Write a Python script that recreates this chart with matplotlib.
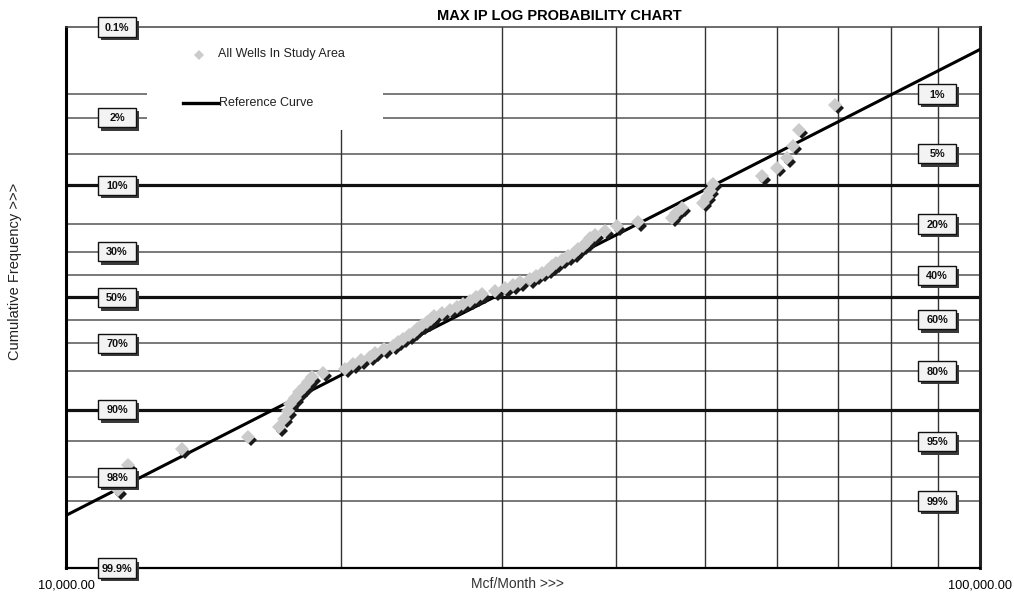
import numpy as np
import matplotlib
matplotlib.use("Agg")
import matplotlib.pyplot as plt
import matplotlib.transforms as mtransforms
from matplotlib.offsetbox import DrawingArea, AnnotationBbox
from matplotlib.patches import Rectangle
from matplotlib.text import Text
from matplotlib.ticker import NullLocator
from statistics import NormalDist

# ---------------- data ----------------
well_ip = [69400, 63400, 62400, 61500, 60000, 57700, 51000, 50700, 50300, 49800,
           47200, 46500, 46000, 42300, 40100, 38900, 37900, 37400, 37200, 36800,
           36300, 36000, 35400, 34900, 34400, 34000, 33700, 33200, 32700, 32200,
           31400, 30800, 30200, 29500, 28500, 28100, 27700, 27200, 26800, 26300,
           25800, 25300, 25100, 24800, 24500, 24200, 24000, 23700, 23400, 23100,
           22800, 22300, 21800, 21500, 21000, 20600, 20200, 19100, 18600, 18400,
           18200, 18000, 17800, 17600, 17500, 17300, 17100, 15800, 13400, 11700,
           11400]
cum_freq_pct = [1.39, 2.78, 4.17, 5.56, 6.94, 8.33, 9.72, 11.11, 12.50, 13.89,
                15.28, 16.67, 18.06, 19.44, 20.83, 22.22, 23.61, 25.00, 26.39, 27.78,
                29.17, 30.56, 31.94, 33.33, 34.72, 36.11, 37.50, 38.89, 40.28, 41.67,
                43.06, 44.44, 45.83, 47.22, 48.61, 50.00, 51.39, 52.78, 54.17, 55.56,
                56.94, 58.33, 59.72, 61.11, 62.50, 63.89, 65.28, 66.67, 68.06, 69.44,
                70.83, 72.22, 73.61, 75.00, 76.39, 77.78, 79.17, 80.56, 81.94, 83.33,
                84.72, 86.11, 87.50, 88.89, 90.28, 91.67, 93.06, 94.44, 95.83, 97.22,
                98.61]
ref_x = [10000, 100000]
ref_pct = [99.36, 0.23]

left_labels = ["0.1%", "2%", "10%", "30%", "50%", "70%", "90%", "98%", "99.9%"]
left_pct = [0.1, 2, 10, 30, 50, 70, 90, 98, 99.9]
right_labels = ["1%", "5%", "20%", "40%", "60%", "80%", "95%", "99%"]
right_pct = [1, 5, 20, 40, 60, 80, 95, 99]
thick_pct = [10, 50, 90]
thin_pct = [1, 2, 5, 20, 30, 40, 60, 70, 80, 95, 98, 99]
vgrid_x = [20000, 30000, 40000, 50000, 60000, 70000, 80000, 90000]
xtick_vals = [10000, 100000]
xtick_labels = ["10,000.00", "100,000.00"]

# ---------------- probability scale ----------------
_nd = NormalDist()
_ppf = np.vectorize(lambda p: _nd.inv_cdf(min(max(p, 1e-9), 1 - 1e-9)), otypes=[float])
_cdf = np.vectorize(_nd.cdf, otypes=[float])


def fwd(pct):
    return _ppf(np.asarray(pct, dtype=float) / 100.0)


def inv(z):
    return _cdf(np.asarray(z, dtype=float)) * 100.0


plt.rcParams["font.family"] = ["Liberation Sans", "DejaVu Sans"]

fig = plt.figure(figsize=(10.14, 5.96), dpi=100)
ax = fig.add_axes([66 / 1014, 1 - 568 / 596, 914 / 1014, 541 / 596])
ax.set_xscale("log")
ax.set_yscale("function", functions=(fwd, inv))
ax.set_xlim(10000, 100000)
ax.set_ylim(99.9, 0.1)

# grid lines
for p in thin_pct:
    ax.axhline(p, color="#555555", lw=1.1, zorder=1)
for p in thick_pct:
    ax.axhline(p, color="#111111", lw=2.3, zorder=1.2)
for xv in vgrid_x:
    ax.axvline(xv, color="#333333", lw=1.0, zorder=1)

# legend white area
ax.add_patch(Rectangle((0.0886, 0.8096), 0.2582, 0.19, transform=ax.transAxes,
                       facecolor="white", edgecolor="none", zorder=2))

# reference curve
ax.plot(ref_x, ref_pct, color="black", lw=2.2, zorder=3)

# data points with shadow
ms = 7.5
shadow_tr = mtransforms.offset_copy(ax.transData, fig=fig, x=3, y=-3.5, units="dots")
ax.plot(well_ip, cum_freq_pct, linestyle="none", marker="D", markersize=ms * 0.85,
        color="#1a1a1a", markeredgewidth=0, transform=shadow_tr, zorder=3.5)
ax.plot(well_ip, cum_freq_pct, linestyle="none", marker="D", markersize=ms,
        color="#cbcbcb", markeredgewidth=0, zorder=4)

# manual legend
ax.plot([0.1455], [0.948], transform=ax.transAxes, marker="D", markersize=5.5,
        color="#cbcbcb", markeredgewidth=0, linestyle="none", zorder=3)
ax.text(0.1663, 0.951, "All Wells In Study Area", transform=ax.transAxes,
        ha="left", va="center", fontsize=9, color="#222222", zorder=3)
ax.plot([0.128, 0.1663], [0.8595, 0.8595], transform=ax.transAxes,
        color="black", lw=2.4, zorder=3)
ax.text(0.1674, 0.8595, "Reference Curve", transform=ax.transAxes,
        ha="left", va="center", fontsize=9, color="#222222", zorder=3)

# percentage boxes
trans = mtransforms.blended_transform_factory(ax.transAxes, ax.transData)
bw, bh, sh = 27.5, 14, 2.4


def add_box(xa, pct, label):
    da = DrawingArea(bw, bh, 0, 0, clip=False)
    da.add_artist(Rectangle((sh, -sh), bw, bh, facecolor="#3a3a3a", edgecolor="none"))
    da.add_artist(Rectangle((0, 0), bw, bh, facecolor="#f3f3f3", edgecolor="#111111", lw=1.0))
    da.add_artist(Text(bw / 2, bh / 2 - 0.5, label, ha="center", va="center",
                       fontsize=7.8, fontweight="bold", color="#111111",
                       family=["Liberation Sans", "DejaVu Sans"]))
    ab = AnnotationBbox(da, (xa, pct), xycoords=trans, box_alignment=(0.5, 0.5),
                        frameon=False, pad=0, annotation_clip=False)
    ab.set_zorder(6)
    ax.add_artist(ab)


for lab, p in zip(left_labels, left_pct):
    add_box(0.0558, p, lab)
for lab, p in zip(right_labels, right_pct):
    add_box(0.953, p, lab)

# axes styling
ax.set_yticks([])
ax.yaxis.set_minor_locator(NullLocator())
ax.set_xticks(xtick_vals)
ax.set_xticklabels(xtick_labels, fontsize=9.2)
ax.xaxis.set_minor_locator(NullLocator())
ax.tick_params(axis="x", length=0, pad=8)
ax.spines["left"].set_linewidth(2.2)
ax.spines["right"].set_linewidth(2.2)
ax.spines["right"].set_color("#222222")
ax.spines["bottom"].set_linewidth(1.6)
ax.spines["top"].set_linewidth(1.1)
ax.spines["top"].set_color("#444444")

ax.set_xlabel("Mcf/Month >>>", fontsize=10, color="#333333")
ax.xaxis.set_label_coords(0.494, -0.03)
ax.xaxis.label.set_va("center")
ax.set_ylabel("Cumulative Frequency >>>", fontsize=10.5, color="#222222")
ax.yaxis.set_label_coords(-0.0558, 0.549)
ax.yaxis.label.set_va("center")
ax.set_title("MAX IP LOG PROBABILITY CHART", fontsize=10.5, fontweight="bold",
             x=0.540, pad=5)

fig.savefig("out.png", dpi=100)
